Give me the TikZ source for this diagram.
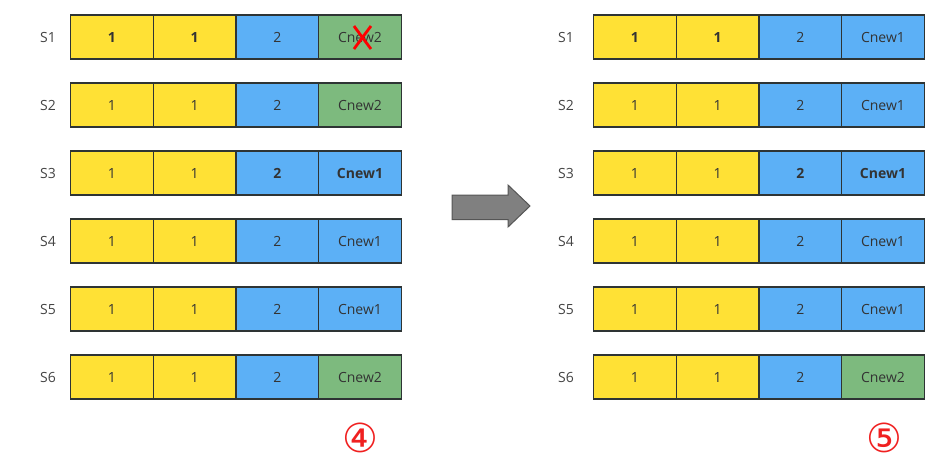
\documentclass[tikz,border=0pt]{standalone}
\usepackage{fontspec}
\setmainfont{Open Sans}
\newfontfamily\symfont{DejaVu Sans}
\definecolor{cy}{HTML}{FFE135}
\definecolor{cb}{HTML}{5CB0F6}
\definecolor{cg}{HTML}{7DBA7E}
\definecolor{bordc}{HTML}{2E3434}
\definecolor{txt}{HTML}{333333}
\definecolor{labc}{HTML}{444444}
\definecolor{arrf}{HTML}{808080}
\definecolor{arrd}{HTML}{555555}
\definecolor{circred}{HTML}{F02020}
\begin{document}
\begin{tikzpicture}[x=1pt,y=-1pt,
  cell/.style={draw=bordc, line width=1.4pt, minimum width=82.7pt, minimum height=44pt,
    inner sep=0pt, font=\fontsize{14}{14}\selectfont, text=txt},
  fb/.style={font=\fontsize{14}{14}\selectfont\bfseries},
  fn/.style={},
  lab/.style={font=\fontsize{14}{14}\selectfont, text=labc},
  circnum/.style={font=\symfont\fontsize{40}{40}\selectfont, text=circred, inner sep=0pt},
  bigarrow/.style={draw=arrd, fill=arrf, line width=1pt, line join=miter}
]
\useasboundingbox (0,0) rectangle (949,464);
\fill[white] (0,0) rectangle (949,464);

\foreach \i/\y/\ba/\bb/\lc/\lt/\rc/\rt in {
  1/37/fb/fn/cg/Cnew2/cb/Cnew1,
  2/105/fn/fn/cg/Cnew2/cb/Cnew1,
  3/173/fn/fb/cb/Cnew1/cb/Cnew1,
  4/241/fn/fn/cb/Cnew1/cb/Cnew1,
  5/309/fn/fn/cb/Cnew1/cb/Cnew1,
  6/377/fn/fn/cg/Cnew2/cg/Cnew2}{
  % left group
  \node[lab] (LS\i) at (48,\y) {S\i};
  \node[cell, fill=cy, \ba] (L\i a) at (111.85,\y) {1};
  \node[cell, fill=cy, \ba] (L\i b) at (194.55,\y) {1};
  \node[cell, fill=cb, \bb] (L\i c) at (277.25,\y) {2};
  \node[cell, fill=\lc, \bb] (L\i d) at (359.95,\y) {\lt};
  % right group
  \node[lab] (RS\i) at (566,\y) {S\i};
  \node[cell, fill=cy, \ba] (R\i a) at (634.85,\y) {1};
  \node[cell, fill=cy, \ba] (R\i b) at (717.55,\y) {1};
  \node[cell, fill=cb, \bb] (R\i c) at (800.25,\y) {2};
  \node[cell, fill=\rc, \bb] (R\i d) at (882.95,\y) {\rt};
}

% red cross on S1 Cnew2
\draw[red, line width=2.8pt]
  ([shift={(-6,-11)}]L1d.center) -- ([shift={(11,12)}]L1d.center)
  ([shift={(11,-11)}]L1d.center) -- ([shift={(-6,12)}]L1d.center);

% big arrow
\draw[bigarrow] (452,195) -- (508,195) -- (508,185) -- (530,206) -- (508,227)
  -- (508,219.5) -- (452,219.5) -- cycle;

% step numbers
\node[circnum] (n4) at (360,438) {④};
\node[circnum] (n5) at (884,438) {⑤};
\end{tikzpicture}
\end{document}
